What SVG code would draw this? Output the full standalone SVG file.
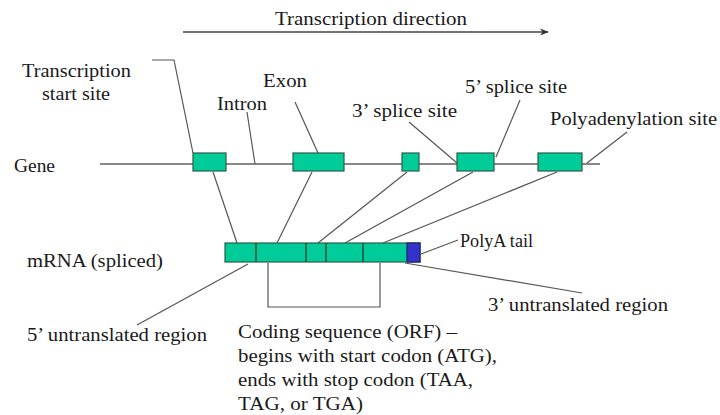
<svg xmlns="http://www.w3.org/2000/svg" width="720" height="415" viewBox="0 0 720 415">
<style>
text{font-family:"Liberation Serif","Times New Roman",serif;font-size:19px;fill:#1a1a1a}
.c{stroke:#555;stroke-width:1.2;fill:none}
.ex{fill:#00cc99;stroke:#2a5e46;stroke-width:1.2}
.div{stroke:#1d4d38;stroke-width:1.5}
</style>
<defs>
<marker id="ah" viewBox="0 0 10 10" refX="9" refY="5" markerWidth="9" markerHeight="9" markerUnits="userSpaceOnUse" orient="auto">
<path d="M0,1 L10,5 L0,9 L3,5 Z" fill="#333"/>
</marker>
</defs>
<rect width="720" height="415" fill="#fff"/>
<g id="direction">
<line x1="183" y1="32" x2="548" y2="32" stroke="#444" stroke-width="1.5" marker-end="url(#ah)"/>
<text x="275" y="25" textLength="192" lengthAdjust="spacingAndGlyphs">Transcription direction</text>
</g>
<g id="gene">
<line x1="100" y1="164" x2="600" y2="164" stroke="#888" stroke-width="2"/>
<text x="14" y="172" textLength="41" lengthAdjust="spacingAndGlyphs">Gene</text>
</g>
<g id="gene-exons">
<rect class="ex" x="193" y="153" width="33" height="18"/>
<rect class="ex" x="293" y="153" width="51" height="18"/>
<rect class="ex" x="402" y="153" width="17" height="18"/>
<rect class="ex" x="457" y="153" width="37" height="18"/>
<rect class="ex" x="538" y="153" width="44" height="18"/>
</g>
<g id="mrna">
<rect class="ex" x="225" y="243" width="195" height="19"/>
<rect x="407" y="243" width="13" height="19" fill="#3333cc" stroke="#22226a" stroke-width="1.2"/>
<line class="div" x1="256" y1="243" x2="256" y2="262"/>
<line class="div" x1="306" y1="243" x2="306" y2="262"/>
<line class="div" x1="326" y1="243" x2="326" y2="262"/>
<line class="div" x1="363" y1="243" x2="363" y2="262"/>
<text x="27" y="267" textLength="136" lengthAdjust="spacingAndGlyphs">mRNA (spliced)</text>
</g>
<g id="connectors">
<polyline class="c" points="152,60 174,60 193,153"/>
<line class="c" x1="247" y1="112" x2="255" y2="164"/>
<line class="c" x1="295" y1="102" x2="318" y2="153"/>
<line class="c" x1="409" y1="122" x2="457" y2="163"/>
<line class="c" x1="520" y1="100" x2="496" y2="157"/>
<line class="c" x1="627" y1="132" x2="587" y2="163"/>
<line class="c" x1="213" y1="172" x2="237" y2="243"/>
<line class="c" x1="312" y1="172" x2="277" y2="243"/>
<line class="c" x1="407" y1="172" x2="318" y2="243"/>
<line class="c" x1="473" y1="172" x2="345" y2="243"/>
<line class="c" x1="557" y1="172" x2="383" y2="243"/>
<line class="c" x1="248" y1="264" x2="137" y2="325"/>
<line class="c" x1="421" y1="254" x2="458" y2="240"/>
<line class="c" x1="405" y1="263" x2="582" y2="293"/>
<polyline class="c" points="268,263 268,307 380,307 380,263"/>
</g>
<g id="labels">
<text x="22" y="77" textLength="109" lengthAdjust="spacingAndGlyphs">Transcription</text>
<text x="42" y="100" textLength="68" lengthAdjust="spacingAndGlyphs">start site</text>
<text x="217" y="110" textLength="50" lengthAdjust="spacingAndGlyphs">Intron</text>
<text x="263" y="87" textLength="44" lengthAdjust="spacingAndGlyphs">Exon</text>
<text x="352" y="117" textLength="105" lengthAdjust="spacingAndGlyphs">3’ splice site</text>
<text x="465" y="93" textLength="102" lengthAdjust="spacingAndGlyphs">5’ splice site</text>
<text x="550" y="125" textLength="167" lengthAdjust="spacingAndGlyphs">Polyadenylation site</text>
<text x="460" y="247" textLength="73" lengthAdjust="spacingAndGlyphs">PolyA tail</text>
<text x="488" y="311" textLength="180" lengthAdjust="spacingAndGlyphs">3’ untranslated region</text>
<text x="27" y="341" textLength="180" lengthAdjust="spacingAndGlyphs">5’ untranslated region</text>
<text x="238" y="338" textLength="219" lengthAdjust="spacingAndGlyphs">Coding sequence (ORF) –</text>
<text x="238" y="362" textLength="259" lengthAdjust="spacingAndGlyphs">begins with start codon (ATG),</text>
<text x="238" y="386" textLength="235" lengthAdjust="spacingAndGlyphs">ends with stop codon (TAA,</text>
<text x="238" y="410" textLength="125" lengthAdjust="spacingAndGlyphs">TAG, or TGA)</text>
</g>
</svg>
